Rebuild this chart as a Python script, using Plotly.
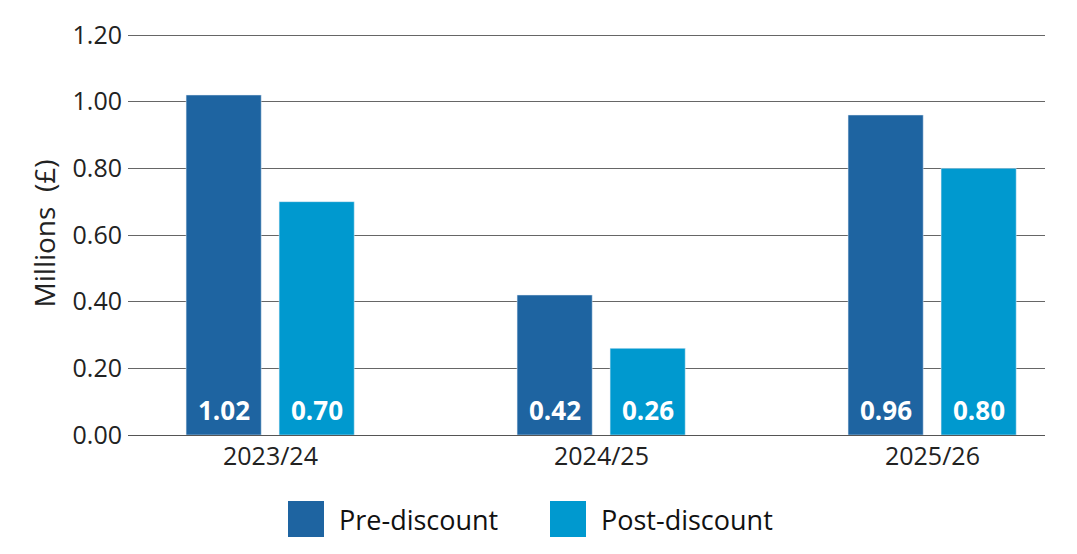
import plotly.graph_objects as go

categories = ["2023/24", "2024/25", "2025/26"]
pre_discount = [1.02, 0.42, 0.96]
post_discount = [0.70, 0.26, 0.80]
y_ticks = [0.0, 0.2, 0.4, 0.6, 0.8, 1.0, 1.2]
series_names = ["Pre-discount", "Post-discount"]

PRE_C = "#1e64a1"
POST_C = "#0099cf"
FONT = "Open Sans"
BAR_W = 0.227
OFFSETS = [-0.255, 0.026]

xpos = list(range(len(categories)))

fig = go.Figure()
annotations = []
for vals, col, name, off in [(pre_discount, PRE_C, series_names[0], OFFSETS[0]),
                             (post_discount, POST_C, series_names[1], OFFSETS[1])]:
    fig.add_trace(go.Bar(
        x=xpos, y=vals, name=name, marker_color=col,
        width=BAR_W, offset=off, showlegend=False,
    ))
    for xi, v in zip(xpos, vals):
        annotations.append(dict(
            x=xi + off + BAR_W / 2, y=0, xref="x", yref="y",
            text=f"{v:.2f}", showarrow=False, yanchor="middle", yshift=25,
            font=dict(family=FONT, size=26, color="white", weight="bold"),
        ))

# manual legend (large squares); plot area spans y 32..435 px
PH = 403
shapes = []
leg = [(288, 337, PRE_C, series_names[0]), (550, 599, POST_C, series_names[1])]
for sx, tx, col, name in leg:
    shapes.append(dict(type="rect", xref="paper", yref="paper",
                       x0=(sx - 128) / 917, x1=(sx + 36 - 128) / 917,
                       y0=(435 - 537) / PH, y1=(435 - 501) / PH,
                       fillcolor=col, line=dict(width=0)))
    annotations.append(dict(xref="paper", yref="paper", x=(tx - 128) / 917,
                            y=(435 - 519) / PH, xanchor="left", yanchor="middle",
                            text=name, showarrow=False,
                            font=dict(family=FONT, size=27, color="#111")))

fig.update_layout(
    width=1077, height=554,
    margin=dict(l=128, r=32, t=32, b=119),
    plot_bgcolor="white", paper_bgcolor="white",
    font=dict(family=FONT, color="#222"),
    shapes=shapes, annotations=annotations,
    showlegend=False,
)
fig.update_xaxes(
    range=[-0.4305, 2.340], tickvals=xpos, ticktext=categories,
    tickfont=dict(size=25, color="#222"), showgrid=False, zeroline=False,
    showline=False, ticks="", ticklabelstandoff=4,
)
fig.update_yaxes(
    range=[0, 1.209], tickvals=y_ticks, tickformat=".2f",
    tickfont=dict(size=25, color="#222"), ticklabelstandoff=5,
    showgrid=True, gridcolor="#666", gridwidth=1,
    zeroline=True, zerolinecolor="#555", zerolinewidth=1,
    title=dict(text="Millions\u00a0\u00a0(£)", font=dict(size=28, color="#222"), standoff=8),
)

fig.write_html("out.html")
